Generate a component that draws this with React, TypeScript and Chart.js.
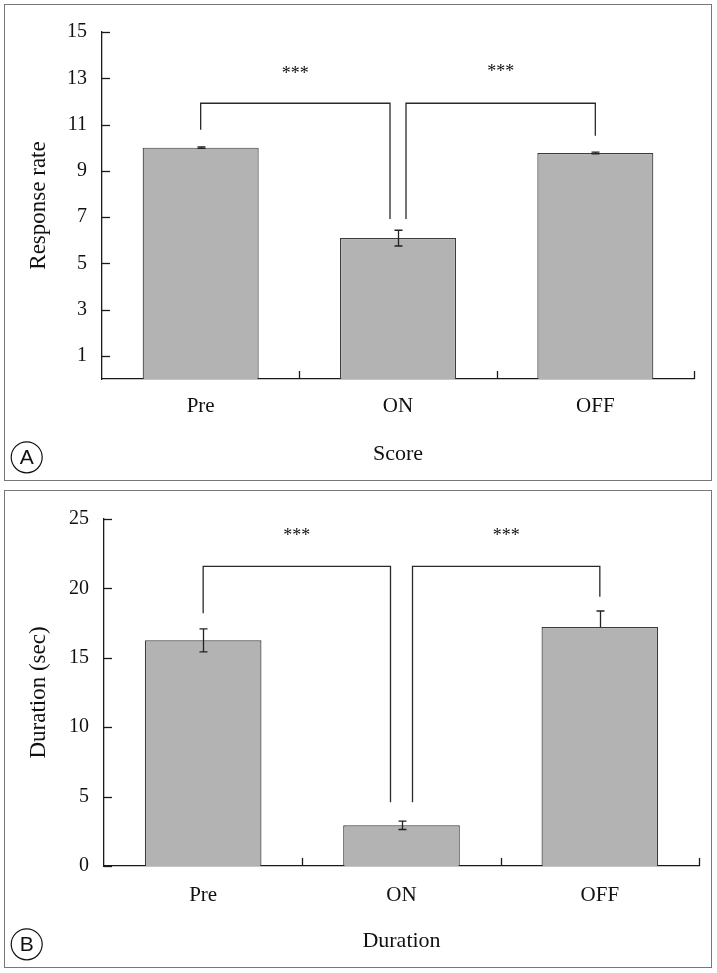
import React, { useEffect, useRef } from 'react';
import { Chart, registerables } from 'chart.js';

Chart.register(...registerables);

// ---------- data ----------
const categories = ['Pre', 'ON', 'OFF'];

const responseRate = [10.0, 6.09, 9.77];
const responseErrUp = [0.03, 0.34, 0.04];
const responseErrDown = [0.03, 0.34, 0.04];
const responseTicks = [1, 3, 5, 7, 9, 11, 13, 15];
const responseBrackets = [
  { from: 0, to: 1, top: 11.92, fromEnd: 10.77, toEnd: 6.92, label: '***', labelY: 13.36 },
  { from: 1, to: 2, top: 11.92, fromEnd: 6.92, toEnd: 10.52, label: '***', labelY: 13.43 },
];

const durationSec = [16.26, 2.93, 17.22];
const durationErrUp = [0.83, 0.3, 1.15];
const durationErrDown = [0.83, 0.3, 0];
const durationTicks = [0, 5, 10, 15, 20, 25];
const durationBrackets = [
  { from: 0, to: 1, top: 21.59, fromEnd: 18.21, toEnd: 4.59, label: '***', labelY: 24.08 },
  { from: 1, to: 2, top: 21.59, fromEnd: 4.59, toEnd: 19.4, label: '***', labelY: 24.08 },
];

// ---------- styling ----------
const SERIF = "'Liberation Serif', 'Times New Roman', serif";
const SANS = "'Liberation Sans', Arial, sans-serif";
const INK = '#1a1a1a';

type Bracket = { from: number; to: number; top: number; fromEnd: number; toEnd: number; label: string; labelY: number };

type PanelCfg = {
  letter: string;
  values: number[];
  errUp: number[];
  errDown: number[];
  ticks: number[];
  yMin: number;
  yMax: number;
  brackets: Bracket[];
  xTitle: string;
  yTitle: string;
  width: number;
  height: number;
  chartLeft: number;
  padTop: number;
  padRight: number;
  xScaleHeight: number;
  xTickPad: number;
  xTitlePadBottom: number;
  yTitlePadTop: number;
  legGap: number;
  circle: { x: number; y: number };
};

function makeOverlay(cfg: PanelCfg) {
  return {
    id: 'overlay' + cfg.letter,
    afterDraw(chart: any) {
      const ctx = chart.ctx;
      const xs = chart.scales.x;
      const ys = chart.scales.y;
      const area = chart.chartArea;
      ctx.save();
      ctx.strokeStyle = INK;
      ctx.lineWidth = 1.3;
      ctx.lineCap = 'butt';

      // inward y ticks
      ys.ticks.forEach((t: any) => {
        const y = Math.round(ys.getPixelForValue(t.value)) + 0.5;
        ctx.beginPath();
        ctx.moveTo(area.left, y);
        ctx.lineTo(area.left + 8, y);
        ctx.stroke();
      });
      // upward x ticks at category boundaries
      for (let i = 1; i <= categories.length; i++) {
        const x = Math.round(xs.getPixelForValue(i - 0.5)) + 0.5;
        ctx.beginPath();
        ctx.moveTo(x, area.bottom);
        ctx.lineTo(x, area.bottom - 8);
        ctx.stroke();
      }

      // error bars
      ctx.strokeStyle = '#222';
      ctx.lineWidth = 1.3;
      cfg.values.forEach((v, i) => {
        const x = Math.round(xs.getPixelForValue(i)) + 0.5;
        const yTop = ys.getPixelForValue(v + cfg.errUp[i]);
        const yBot = ys.getPixelForValue(v - cfg.errDown[i]);
        ctx.beginPath();
        ctx.moveTo(x, yTop);
        ctx.lineTo(x, yBot);
        ctx.moveTo(x - 4, yTop);
        ctx.lineTo(x + 4, yTop);
        if (cfg.errDown[i] > 0) {
          ctx.moveTo(x - 4, yBot);
          ctx.lineTo(x + 4, yBot);
        }
        ctx.stroke();
      });

      // significance brackets
      ctx.strokeStyle = '#2a2a2a';
      ctx.lineWidth = 1.3;
      cfg.brackets.forEach((b) => {
        const shared = 1;
        const x0 = xs.getPixelForValue(b.from) + (b.from === shared ? cfg.legGap : 0);
        const x1 = xs.getPixelForValue(b.to) - (b.to === shared ? cfg.legGap : 0);
        const yT = ys.getPixelForValue(b.top);
        ctx.beginPath();
        ctx.moveTo(x0, ys.getPixelForValue(b.fromEnd));
        ctx.lineTo(x0, yT);
        ctx.lineTo(x1, yT);
        ctx.lineTo(x1, ys.getPixelForValue(b.toEnd));
        ctx.stroke();
        ctx.fillStyle = '#111';
        ctx.font = `18px ${SERIF}`;
        ctx.textAlign = 'center';
        ctx.textBaseline = 'alphabetic';
        ctx.fillText(b.label, (x0 + x1) / 2, ys.getPixelForValue(b.labelY) + 9);
      });

      // circled panel letter
      ctx.strokeStyle = '#111';
      ctx.lineWidth = 1.2;
      ctx.beginPath();
      ctx.arc(cfg.circle.x, cfg.circle.y, 15.5, 0, Math.PI * 2);
      ctx.stroke();
      ctx.fillStyle = '#111';
      ctx.font = `21px ${SANS}`;
      ctx.textAlign = 'center';
      ctx.textBaseline = 'middle';
      ctx.fillText(cfg.letter, cfg.circle.x, cfg.circle.y + 1);
      ctx.restore();
    },
  };
}

function Panel({ cfg, left, top }: { cfg: PanelCfg; left: number; top: number }) {
  const ref = useRef<HTMLCanvasElement | null>(null);
  useEffect(() => {
    if (!ref.current) return;
    const chart = new Chart(ref.current, {
      type: 'bar',
      data: {
        labels: categories,
        datasets: [
          {
            data: cfg.values,
            backgroundColor: '#b3b3b3',
            borderColor: '#3c3c3c',
            borderWidth: 1.2,
            barPercentage: 0.588,
            categoryPercentage: 1,
          },
        ],
      },
      options: {
        responsive: false,
        animation: false,
        events: [],
        devicePixelRatio: 1,
        layout: { padding: { top: cfg.padTop, right: cfg.padRight, left: 0, bottom: 0 } },
        plugins: { legend: { display: false }, tooltip: { enabled: false } },
        scales: {
          x: {
            type: 'category',
            offset: true,
            grid: { display: false, drawTicks: false },
            border: { display: true, color: INK, width: 1.3 },
            ticks: { font: { family: SERIF, size: 21 }, color: '#111', padding: cfg.xTickPad, maxRotation: 0 },
            title: {
              display: true,
              text: cfg.xTitle,
              font: { family: SERIF, size: 22 },
              color: '#111',
              padding: { top: 0, bottom: cfg.xTitlePadBottom },
            },
            afterFit: (s: any) => {
              s.height = cfg.xScaleHeight;
            },
          },
          y: {
            type: 'linear',
            min: cfg.yMin,
            max: cfg.yMax,
            afterBuildTicks: (s: any) => {
              s.ticks = cfg.ticks.map((v) => ({ value: v }));
            },
            grid: { display: false, drawTicks: false },
            border: { display: true, color: INK, width: 1.3 },
            ticks: { font: { family: SERIF, size: 20 }, color: '#111', padding: 15 },
            title: {
              display: true,
              text: cfg.yTitle,
              font: { family: SERIF, size: 23 },
              color: '#111',
              padding: { top: cfg.yTitlePadTop, bottom: 0 },
            },
            afterFit: (s: any) => {
              s.width = cfg.chartLeft;
            },
          },
        },
      },
      plugins: [makeOverlay(cfg)],
    } as any);
    return () => chart.destroy();
  }, [cfg]);

  return (
    <>
      <canvas
        ref={ref}
        width={cfg.width}
        height={cfg.height}
        style={{ position: 'absolute', left, top, width: cfg.width, height: cfg.height }}
      />
      <div
        style={{
          position: 'absolute',
          left,
          top,
          width: cfg.width,
          height: cfg.height,
          border: '1.5px solid #777',
          boxSizing: 'border-box',
          pointerEvents: 'none',
        }}
      />
    </>
  );
}

const panelA: PanelCfg = {
  letter: 'A',
  values: responseRate,
  errUp: responseErrUp,
  errDown: responseErrDown,
  ticks: responseTicks,
  yMin: 0,
  yMax: 15,
  brackets: responseBrackets,
  xTitle: 'Score',
  yTitle: 'Response rate',
  width: 708,
  height: 477,
  chartLeft: 98,
  padTop: 28,
  padRight: 18,
  xScaleHeight: 102,
  xTickPad: 15,
  xTitlePadBottom: 13.8,
  yTitlePadTop: 21.5,
  legGap: 8,
  circle: { x: 22.7, y: 453.3 },
};

const panelB: PanelCfg = {
  letter: 'B',
  values: durationSec,
  errUp: durationErrUp,
  errDown: durationErrDown,
  ticks: durationTicks,
  yMin: 0,
  yMax: 25,
  brackets: durationBrackets,
  xTitle: 'Duration',
  yTitle: 'Duration (sec)',
  width: 708,
  height: 478,
  chartLeft: 100,
  padTop: 29,
  padRight: 13,
  xScaleHeight: 102,
  xTickPad: 17,
  xTitlePadBottom: 13.1,
  yTitlePadTop: 21.5,
  legGap: 11,
  circle: { x: 22.7, y: 454.3 },
};

export default function App() {
  return (
    <div style={{ position: 'absolute', left: 0, top: 0, width: 717, height: 973, background: '#fff' }}>
      <Panel cfg={panelA} left={4} top={4} />
      <Panel cfg={panelB} left={4} top={490} />
    </div>
  );
}
